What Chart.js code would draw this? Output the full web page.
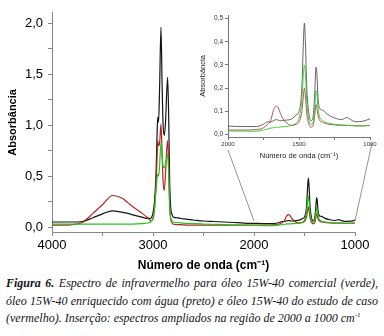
<!DOCTYPE html>
<html>
<head>
<meta charset="utf-8">
<script src="https://cdn.jsdelivr.net/npm/chart.js@4/dist/chart.umd.min.js"></script>
<style>
  body { margin: 0; background: #fff; }
  #wrap { position: relative; width: 384px; height: 336px; overflow: hidden; background: #fff; }
  #mainChart { position: absolute; left: 0; top: 0; }
  #insetChart { position: absolute; left: 190px; top: 0; }
  #caption { position: absolute; left: 6px; top: 275px; width: 372px;
    font-family: "Liberation Serif", serif; font-style: italic; font-size: 12px;
    line-height: 17.5px; color: #141420; }
  #caption .j { text-align: justify; text-align-last: justify; white-space: nowrap; }
  #caption sup { font-size: 7px; vertical-align: 5px; line-height: 0; }
</style>
</head>
<body>
<div id="wrap">
  <canvas id="mainChart" width="384" height="275"></canvas>
  <canvas id="insetChart" width="192" height="165"></canvas>
  <div id="caption">
    <div class="j"><b>Figura 6.</b> Espectro de infravermelho para óleo 15W-40 comercial (verde),</div>
    <div class="j">óleo 15W-40 enriquecido com água (preto) e óleo 15W-40 do estudo de caso</div>
    <div>(vermelho). Inserção: espectros ampliados na região de 2000 a 1000 cm<sup>-1</sup></div>
  </div>
</div>
<script>
// wavenumber (cm-1), shared by all three spectra
var wavenumber = [4000,3900,3800,3700,3600,3500,3400,3300,3250,3200,
  3100,3050,3020,3000,2985,2970,2960,2953,2945,2935,
  2921,2910,2900,2888,2875,2865,2855,2845,2835,2825,
  2810,2800,2750,2700,2600,2500,2400,2300,2200,2100,
  2000,1900,1800,1750,1720,1700,1680,1660,1645,1630,
  1600,1550,1520,1500,1480,1470,1462,1455,1445,1430,
  1415,1400,1390,1380,1375,1365,1350,1330,1320,1300,
  1250,1200,1160,1150,1100,1050,1000];

// óleo 15W-40 comercial (verde)
var absVerde = [0.03,0.03,0.03,0.03,0.03,0.03,0.03,0.03,0.03,0.03,
  0.035,0.04,0.055,0.09,0.18,0.36,0.48,0.52,0.5,0.6,
  0.83,0.7,0.6,0.58,0.62,0.68,0.72,0.52,0.2,0.09,
  0.06,0.05,0.045,0.04,0.035,0.03,0.027,0.024,0.02,0.018,
  0.016,0.015,0.015,0.02,0.025,0.028,0.03,0.032,0.032,0.033,
  0.035,0.04,0.05,0.07,0.15,0.25,0.3,0.26,0.14,0.06,
  0.045,0.055,0.11,0.19,0.18,0.11,0.07,0.06,0.055,0.05,
  0.045,0.042,0.04,0.04,0.038,0.038,0.04];

// óleo 15W-40 enriquecido com água (preto)
var absPreto = [0.05,0.05,0.05,0.055,0.09,0.13,0.16,0.145,0.135,0.12,
  0.095,0.085,0.09,0.14,0.25,0.52,0.9,1.08,1.03,1.35,
  1.96,1.4,1.0,0.9,1.05,1.3,1.47,1.1,0.45,0.2,
  0.12,0.1,0.09,0.08,0.07,0.06,0.055,0.05,0.045,0.04,
  0.037,0.035,0.035,0.045,0.055,0.055,0.06,0.065,0.062,0.06,
  0.062,0.068,0.085,0.1,0.2,0.38,0.48,0.4,0.2,0.09,
  0.06,0.08,0.17,0.29,0.27,0.15,0.11,0.105,0.1,0.088,
  0.072,0.065,0.074,0.07,0.056,0.058,0.068];

// óleo 15W-40 do estudo de caso (vermelho)
var absVermelho = [0.02,0.02,0.025,0.045,0.13,0.22,0.31,0.28,0.24,0.2,
  0.13,0.09,0.065,0.08,0.18,0.42,0.68,0.85,0.8,0.82,
  1.01,0.72,0.45,0.36,0.55,0.75,0.85,0.6,0.22,0.08,
  0.04,0.03,0.025,0.022,0.02,0.02,0.02,0.02,0.02,0.02,
  0.02,0.02,0.022,0.03,0.045,0.06,0.105,0.123,0.115,0.09,
  0.058,0.04,0.045,0.055,0.1,0.16,0.2,0.17,0.09,0.045,
  0.032,0.04,0.08,0.13,0.12,0.08,0.058,0.052,0.05,0.046,
  0.042,0.04,0.04,0.04,0.038,0.038,0.04];

var mainXTicks  = [4000,3500,3000,2500,2000,1500,1000];
var mainXLabels = [4000,3000,2000,1000];
var mainYTicks  = [0,0.25,0.5,0.75,1,1.25,1.5,1.75,2];
var insetXTicks  = [2000,1750,1500,1250,1000];
var insetXLabels = [2000,1500,1000];
var insetYTicks  = [0,0.1,0.2,0.3,0.4,0.5];

Chart.defaults.font.family = "'Liberation Sans', Arial, sans-serif";

function points(arr) {
    return wavenumber.map(function(w, i) { return {x: w, y: arr[i]}; });
}

function comma(v) {
    return v.toFixed(1).replace('.', ',');
}

function spectra(colors, width) {
    var series = [absVerde, absVermelho, absPreto];
    return series.map(function(arr, i) {
        return {
            data: points(arr),
            borderColor: colors[i],
            borderWidth: width,
            pointRadius: 0,
            cubicInterpolationMode: 'monotone',
            fill: false
        };
    });
}

// zoom lines from the inset down to the 2000-1000 region
var zoomLines = {
    id: 'zoomLines',
    afterDraw: function(chart) {
        var ctx = chart.ctx;
        var xs = chart.scales.x, ys = chart.scales.y;
        ctx.save();
        ctx.strokeStyle = '#777';
        ctx.lineWidth = 0.8;
        ctx.beginPath();
        ctx.moveTo(228, 150);
        ctx.lineTo(xs.getPixelForValue(2000), ys.getPixelForValue(0.06));
        ctx.moveTo(372, 143);
        ctx.lineTo(xs.getPixelForValue(1000), ys.getPixelForValue(0.06));
        ctx.stroke();
        ctx.restore();
    }
};

window.onload = function() {
    drawMain();
    drawInset();
}

function drawMain() {
    var ctx = document.getElementById('mainChart').getContext('2d');
    new Chart(ctx, {
        type: 'line',
        data: { datasets: spectra(['#22c41e', '#b3261e', '#141414'], 1.2) },
        options: {
            responsive: false,
            animation: false,
            layout: { padding: { top: 8, right: 29, left: 0, bottom: 0 } },
            plugins: { legend: { display: false }, tooltip: { enabled: false } },
            scales: {
                x: {
                    type: 'linear', reverse: true, min: 1000, max: 4000,
                    afterBuildTicks: function(s) { s.ticks = mainXTicks.map(function(v) { return {value: v}; }); },
                    afterFit: function(s) { s.height = 43; },
                    ticks: {
                        autoSkip: false, maxRotation: 0, padding: 2, color: '#000',
                        font: { size: 13 },
                        callback: function(v) { return mainXLabels.indexOf(v) >= 0 ? String(v) : ''; }
                    },
                    grid: { drawOnChartArea: false, tickLength: 4, color: '#888' },
                    border: { color: '#888' },
                    title: {
                        display: true, text: 'Número de onda (cm⁻¹)', color: '#000',
                        font: { size: 12, weight: 'bold' }, padding: { top: 0, bottom: 2 }
                    }
                },
                y: {
                    type: 'linear', min: -0.048, max: 2.103,
                    afterBuildTicks: function(s) { s.ticks = mainYTicks.map(function(v) { return {value: v}; }); },
                    afterFit: function(s) { s.width = 52; },
                    ticks: {
                        autoSkip: false, padding: 5, color: '#000',
                        font: { size: 13 },
                        callback: function(v) { return Math.abs(v * 2 - Math.round(v * 2)) < 1e-9 ? comma(v) : ''; }
                    },
                    grid: { drawOnChartArea: false, tickLength: 4, color: '#888' },
                    border: { color: '#888' },
                    title: {
                        display: true, text: 'Absorbância', color: '#000',
                        font: { size: 11, weight: 'bold' }, padding: { top: 6, bottom: 0 }
                    }
                }
            }
        },
        plugins: [zoomLines]
    });
}

function drawInset() {
    var ctx = document.getElementById('insetChart').getContext('2d');
    new Chart(ctx, {
        type: 'line',
        data: { datasets: spectra(['#36c832', '#a8443e', '#555555'], 0.9) },
        options: {
            responsive: false,
            animation: false,
            layout: { padding: { top: 15, right: 12, left: 0, bottom: 0 } },
            plugins: { legend: { display: false }, tooltip: { enabled: false } },
            scales: {
                x: {
                    type: 'linear', reverse: true, min: 1000, max: 2000,
                    afterBuildTicks: function(s) { s.ticks = insetXTicks.map(function(v) { return {value: v}; }); },
                    afterFit: function(s) { s.height = 28; },
                    ticks: {
                        autoSkip: false, maxRotation: 0, padding: 1, color: '#333',
                        font: { size: 6 },
                        callback: function(v) { return insetXLabels.indexOf(v) >= 0 ? String(v) : ''; }
                    },
                    grid: { drawOnChartArea: false, tickLength: 3, color: '#777' },
                    border: { color: '#777' },
                    title: {
                        display: true, text: 'Número de onda (cm⁻¹)', color: '#222',
                        font: { size: 7.5 }, padding: { top: 0, bottom: 5 }
                    }
                },
                y: {
                    type: 'linear', min: -0.01, max: 0.515,
                    afterBuildTicks: function(s) { s.ticks = insetYTicks.map(function(v) { return {value: v}; }); },
                    afterFit: function(s) { s.width = 38; },
                    ticks: {
                        autoSkip: false, padding: 2, color: '#333',
                        font: { size: 6.5 },
                        callback: function(v) { return comma(v); }
                    },
                    grid: { drawOnChartArea: false, tickLength: 3, color: '#777' },
                    border: { color: '#777' },
                    title: {
                        display: true, text: 'Absorbância', color: '#222',
                        font: { size: 7.5 }, padding: { top: 8, bottom: 0 }
                    }
                }
            }
        }
    });
}
</script>
</body>
</html>
